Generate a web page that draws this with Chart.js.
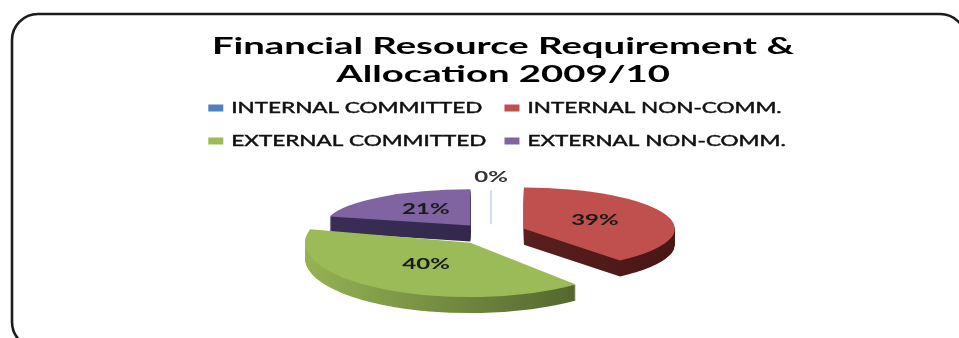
<!DOCTYPE html>
<html><head><meta charset="utf-8">
<script src="https://cdn.jsdelivr.net/npm/chart.js@4.4.1/dist/chart.umd.min.js"></script>
<style>html,body{margin:0;padding:0;background:#fff;}canvas{display:block}</style>
</head><body>
<canvas id="c" width="959" height="338"></canvas>
<script>
// ---- data ----
const titleLines = ['Financial Resource Requirement &', 'Allocation 2009/10'];
const categories = ['INTERNAL COMMITTED', 'INTERNAL NON-COMM.', 'EXTERNAL COMMITTED', 'EXTERNAL NON-COMM.'];
const shares = [0, 39, 40, 21];

// ---- styles ----
const faceColors = ['#4F81BD', '#C0504D', '#9BBB59', '#8064A2'];
const sideStops = [['#B9CDE5', '#B9CDE5'], ['#6A2624', '#481716'], ['#95B354', '#465626'], ['#3A2E56', '#2A2141']];
const FONT = 'Lato, "Open Sans", sans-serif';
const geo = { explode: 36, sy: 0.29, persY: 0.25, persX: 0.08, depth: 16, labelF: 0.5, zeroLabelF: 1.35 };

function stretchText(ctx, text, x, y, font, kx, color, align, thick) {
  ctx.save();
  ctx.font = font;
  ctx.fillStyle = color;
  ctx.textBaseline = 'middle';
  ctx.textAlign = align || 'center';
  ctx.translate(x, y);
  ctx.scale(kx, 1);
  ctx.fillText(text, 0, 0);
  if (thick) { ctx.strokeStyle = color; ctx.lineWidth = thick; ctx.strokeText(text, 0, 0); }
  ctx.restore();
}

const pie3d = {
  id: 'pie3d',
  beforeDraw(chart) {
    const ctx = chart.ctx;
    ctx.save();
    ctx.fillStyle = '#fff';
    ctx.fillRect(0, 0, chart.width, chart.height);
    ctx.beginPath();
    ctx.roundRect(12, 14, 954, 334, 26);
    ctx.lineWidth = 2.6;
    ctx.strokeStyle = '#1c1c1c';
    ctx.stroke();
    ctx.restore();
    // title
    titleLines.forEach((t, i) => stretchText(ctx, t, 503, 47 + i * 28, 'bold 22px ' + FONT, 1.74, '#000'));
    // legend (2 x 2)
    const lf = '15px ' + FONT, kx = 1.5, boxW = 15, boxH = 7, gap = 8, colGap = 18;
    ctx.save(); ctx.font = lf;
    const w = categories.map(c => ctx.measureText(c).width * kx);
    ctx.restore();
    const c0 = boxW + gap + Math.max(w[0], w[2]);
    const c1 = boxW + gap + Math.max(w[1], w[3]);
    const x0 = 497 - (c0 + colGap + c1) / 2;
    const rows = [108, 141];
    categories.forEach((c, i) => {
      const col = i % 2, row = Math.floor(i / 2);
      const x = col === 0 ? x0 : x0 + c0 + colGap;
      const y = rows[row];
      ctx.fillStyle = faceColors[i];
      ctx.fillRect(x, y - boxH / 2, boxW, boxH);
      stretchText(ctx, c, x + boxW + gap, y, lf, kx, '#111', 'left', 0.45);
    });
  },
  beforeDatasetsDraw(chart) {
    const ctx = chart.ctx;
    const arcs = chart.getDatasetMeta(0).data;
    const total = shares.reduce((a, b) => a + b, 0);
    const info = arcs.map((a, i) => {
      const mid = (a.startAngle + a.endAngle) / 2;
      const back = -Math.sin(mid);
      return { a, i, mid, back, sx: 1 - geo.persX * back, sy: geo.sy * (1 - geo.persY * back),
               tx: Math.cos(mid) * geo.explode, ty: Math.sin(mid) * geo.explode };
    });
    const order = info.slice().sort((p, q) => q.back - p.back);
    const setT = (s, dy) => {
      ctx.translate(s.a.x, s.a.y + dy);
      ctx.scale(s.sx, s.sy);
      ctx.translate(s.tx - s.a.x, s.ty - s.a.y);
    };
    order.forEach(s => {
      const a = s.a, R = a.outerRadius;
      if (a.circumference === 0) {
        ctx.save();
        const dx = Math.cos(a.startAngle), dy = Math.sin(a.startAngle);
        const p1 = [a.x + s.sx * Math.cos(s.mid) * geo.explode, a.y + s.sy * Math.sin(s.mid) * geo.explode];
        const p2 = [p1[0] + s.sx * dx * R, p1[1] + s.sy * dy * R];
        ctx.strokeStyle = '#C5D5EA';
        ctx.lineWidth = 1.6;
        ctx.beginPath(); ctx.moveTo(p1[0], p1[1]); ctx.lineTo(p2[0], p2[1]); ctx.stroke();
        ctx.restore();
        return;
      }
      const o = a.options;
      const bg = o.backgroundColor;
      for (let k = geo.depth; k >= 1; k--) {
        ctx.save();
        setT(s, k);
        const g = ctx.createLinearGradient(a.x - R, 0, a.x + R, 0);
        g.addColorStop(0, sideStops[s.i][0]);
        g.addColorStop(1, sideStops[s.i][1]);
        o.backgroundColor = g;
        a.draw(ctx);
        ctx.restore();
      }
      o.backgroundColor = bg;
      ctx.save();
      setT(s, 0);
      a.draw(ctx);
      ctx.restore();
    });
    // labels
    info.forEach(s => {
      const a = s.a, R = a.outerRadius;
      const v = shares[s.i];
      const f = v > 0 ? geo.labelF : geo.zeroLabelF;
      const r = geo.explode + f * R;
      const x = a.x + s.sx * Math.cos(s.mid) * r;
      const y = a.y + s.sy * Math.sin(s.mid) * r;
      const txt = Math.round(v / total * 100) + '%';
      stretchText(ctx, txt, x, y - 2, 'bold 16px ' + FONT, 1.5, v > 0 ? '#1a1a1a' : '#333');
    });
    return false;
  }
};

new Chart(document.getElementById('c'), {
  type: 'pie',
  data: {
    labels: categories,
    datasets: [{ data: shares, backgroundColor: faceColors, borderWidth: 0, offset: 0 }]
  },
  options: {
    responsive: false,
    animation: false,
    radius: 155,
    layout: { padding: { left: 23, right: 0, top: 126, bottom: 0 } },
    plugins: { legend: { display: false }, title: { display: false }, tooltip: { enabled: false } },
    events: []
  },
  plugins: [pie3d]
});
</script>
</body></html>
